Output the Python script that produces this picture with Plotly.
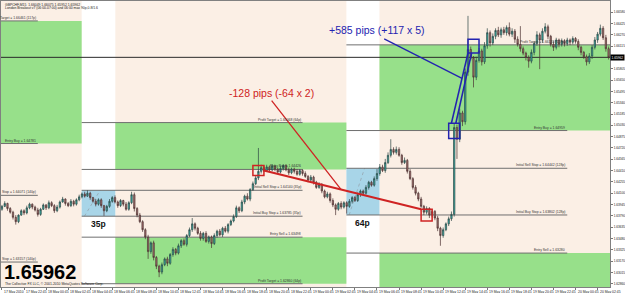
import plotly.graph_objects as go
import pandas as pd

# ---------------- data ----------------
PIP = 0.0001
bar_start = "2010-05-17 20:45"
first_open = 1.6388
closes = [
    1.6392, 1.6396, 1.6389, 1.6384, 1.6377, 1.6371, 1.6380, 1.6386, 1.6383, 1.6390,
    1.6395, 1.6391, 1.6387, 1.6381, 1.6388, 1.6394, 1.6390, 1.6397, 1.6393, 1.6386,
    1.6391, 1.6398, 1.6402, 1.6396, 1.6393, 1.6399, 1.6395, 1.6401, 1.6405,
    1.6409, 1.6406, 1.6410, 1.6404, 1.6399, 1.6395, 1.6401, 1.6393, 1.6386, 1.6392, 1.6399, 1.6404,
    1.6398, 1.6393, 1.6400, 1.6395, 1.6388, 1.6397, 1.6408, 1.6389,
    1.6380, 1.6371, 1.6360, 1.6350,
    1.6330, 1.6342, 1.6322, 1.6310, 1.6302, 1.6312, 1.6320, 1.6314, 1.6326, 1.6333,
    1.6328, 1.6338, 1.6345, 1.6340, 1.6352, 1.6360, 1.6368, 1.6362, 1.6355, 1.6348,
    1.6355, 1.6344, 1.6350, 1.6341, 1.6352, 1.6358,
    1.6353, 1.6362, 1.6358, 1.6367, 1.6372, 1.6378,
    1.6390, 1.6386, 1.6398, 1.6406, 1.6402, 1.6415, 1.6423,
    1.6431, 1.6440, 1.6445, 1.6441,
    1.6446, 1.6442, 1.6447, 1.6443, 1.6439, 1.6444, 1.6448, 1.6442, 1.6438, 1.6443, 1.6440, 1.6436, 1.6441, 1.6437, 1.6433,
    1.6428, 1.6432, 1.6425, 1.6418, 1.6422, 1.6413, 1.6405, 1.6409, 1.6400,
    1.6394, 1.6388, 1.6396, 1.6391, 1.6397,
    1.6392, 1.6399, 1.6404, 1.6400, 1.6408, 1.6413, 1.6410, 1.6418, 1.6425, 1.6421, 1.6430, 1.6437,
    1.6446, 1.6441, 1.6452, 1.6462, 1.6470, 1.6466,
    1.6470, 1.6462, 1.6452, 1.6455, 1.6440, 1.6430, 1.6418, 1.6410,
    1.6402, 1.6392, 1.6384, 1.6389, 1.6380, 1.6385,
    1.6376, 1.6362, 1.6352, 1.6360, 1.6368, 1.6375, 1.6381,
    1.6500, 1.6484, 1.6520, 1.6508, 1.6576, 1.6607, 1.6595, 1.6569, 1.6592, 1.6605, 1.6590, 1.6612, 1.6630, 1.6616,
    1.6625, 1.6633, 1.6627, 1.6634, 1.6630, 1.6637, 1.6628, 1.6632, 1.6621, 1.6614,
    1.6608, 1.6602, 1.6596, 1.6591, 1.6603, 1.6615, 1.6627, 1.6620, 1.6632, 1.6638,
    1.6625, 1.6614, 1.6610, 1.6620, 1.6614, 1.6619, 1.6615, 1.6620, 1.6617, 1.6622,
    1.6618, 1.6610, 1.6603, 1.6597, 1.6590, 1.6598, 1.6610, 1.6620, 1.6628, 1.6636,
    1.6623, 1.6608, 1.65962,
]
wick_up_pips = [
    2, 3, 1, 2, 2, 3, 1, 2, 2, 3, 2, 1, 2, 3, 2, 2, 1, 3, 2, 2, 3, 2, 3, 1, 2, 3, 2, 2, 3,
    2, 3, 4, 2, 1, 3, 2, 2, 1, 2, 3, 2,
    3, 2, 2, 1, 3, 2, 4, 3,
    2, 3, 2, 2,
    3, 2, 3, 2, 2, 3, 2, 3, 2, 3,
    2, 3, 2, 3, 2, 3, 8, 2, 2, 3,
    2, 3, 2, 2, 3, 2,
    3, 2, 3, 2, 2, 3,
    3, 2, 3, 2, 4, 2, 3,
    3, 32, 4, 3,
    3, 2, 3, 2, 2, 3, 2, 2, 3, 2, 2, 3, 2, 2, 3,
    2, 3, 2, 2, 3, 2, 2, 3, 2,
    3, 2, 2, 3, 2,
    2, 3, 2, 2, 3, 2, 2, 3, 2, 2, 3, 6,
    4, 3, 5, 4, 14, 3,
    4, 3, 2, 4, 2, 3, 2, 3,
    2, 3, 2, 3, 2, 3,
    2, 3, 2, 3, 2, 3, 4,
    5, 4, 6, 3, 5, 46, 4, 3, 5, 4, 3, 5, 6, 3,
    4, 3, 5, 3, 4, 3, 7, 4, 3, 4,
    25, 3, 2, 3, 4, 3, 5, 3, 4, 5,
    3, 2, 4, 3, 2, 3, 2, 3, 2, 3,
    2, 3, 2, 2, 3, 4, 3, 4, 3, 5,
    3, 4, 3,
]
wick_dn_pips = [
    2, 1, 3, 2, 3, 4, 2, 1, 3, 2, 2, 3, 2, 3, 2, 1, 3, 2, 2, 3, 2, 2, 1, 3, 2, 2, 3, 2, 2,
    2, 2, 1, 3, 2, 3, 2, 3, 7, 2, 2, 2,
    2, 3, 2, 3, 2, 2, 2, 4,
    3, 2, 3, 3,
    10, 3, 4, 4, 7, 3, 2, 4, 2, 3,
    3, 2, 3, 2, 3, 2, 3, 3, 2, 3,
    3, 2, 3, 6, 2, 3,
    2, 3, 2, 3, 2, 2,
    2, 3, 2, 3, 2, 3, 2,
    2, 3, 3, 2,
    2, 3, 2, 3, 2, 2, 3, 2, 3, 2, 3, 2, 2, 3, 2,
    3, 2, 3, 2, 2, 3, 2, 2, 3,
    3, 8, 2, 3, 2,
    10, 2, 3, 2, 2, 3, 2, 2, 3, 2, 2, 3,
    3, 2, 3, 2, 3, 3,
    3, 2, 3, 2, 3, 2, 3, 3,
    3, 2, 4, 3, 4, 3,
    3, 4, 14, 3, 2, 3, 3,
    3, 27, 4, 6, 4, 5, 3, 14, 4, 3, 5, 3, 4, 5,
    3, 4, 3, 4, 3, 4, 3, 4, 5, 3,
    4, 3, 4, 9, 3, 4, 3, 40, 4, 3,
    4, 3, 5, 3, 4, 3, 4, 3, 4, 3,
    3, 4, 4, 3, 5, 3, 4, 3, 4, 3,
    3, 4, 3,
]

y_tick_values = [1.66580, 1.66425, 1.66270, 1.66115, 1.65960, 1.65805, 1.65650, 1.65495,
                 1.65340, 1.65185, 1.65030, 1.64875, 1.64720, 1.64565, 1.64410, 1.64255,
                 1.64100, 1.63945, 1.63790, 1.63635, 1.63480, 1.63325, 1.63170, 1.63015, 1.62860]
y_range = [1.62815, 1.66734]
last_price = 1.65962

header_line1 = "GBPCHF,M15  1.66049 1.66075 1.65952 1.65962"
header_line2 = "London Breakout v7 (06:00-07:00) and 06:00 max 90p,0.8/1.6"
copyright_text = "The Collective FX LLC, \u00a9 2001-2010 MetaQuotes Software Corp."

day_starts = ["2010-05-18 00:00", "2010-05-19 00:00", "2010-05-20 00:00"]

# day 1 (carried over from previous session)
d1_zone = [1.64781, 1.66461]
d1_names = ["Target = 1.66461 (117p)", "Entry Buy = 1.64781", "Stop = 1.64071 (140p)", "Stop = 1.63157 (140p)"]
d1_prices = [1.66461, 1.64781, 1.64071, 1.63157]

# day 2
d2_range_times = ["2010-05-18 04:00", "2010-05-18 07:00"]
d2_range = [1.63785, 1.64140]
d2_range_label = "35p"
d2_names = ["Profit Target = 1.65068 (64p)", "Entry Buy = 1.64426", "Initial Sell Stop = 1.64140 (35p)",
            "Initial Buy Stop = 1.63785 (35p)", "Entry Sell = 1.63498", "Profit Target = 1.62860 (64p)"]
d2_prices = [1.65068, 1.64426, 1.64140, 1.63785, 1.63498, 1.62860]
d2_green_zones = [[1.64426, 1.65068], [1.62860, 1.63498]]

# day 3
d3_range_times = ["2010-05-19 04:00", "2010-05-19 07:00"]
d3_range = [1.63802, 1.64442]
d3_range_label = "64p"
d3_names = ["Profit Target = 1.66133 (117p)", "Entry Buy = 1.64959", "Initial Sell Stop = 1.64442 (128p)",
            "Initial Buy Stop = 1.63802 (128p)", "Entry Sell = 1.63280"]
d3_prices = [1.66133, 1.64959, 1.64442, 1.63802, 1.63280]
d3_green_zones = [[1.64959, 1.66133], [1.62700, 1.63280]]

# trades (time span of marker box, price span)
loss_boxes_time = [["2010-05-18 19:30", "2010-05-18 20:30"], ["2010-05-19 10:45", "2010-05-19 11:45"]]
loss_boxes_price = [[1.64344, 1.64481], [1.63720, 1.63880]]
loss_text = "-128 pips (-64 x 2)"
win_boxes_time = [["2010-05-19 13:15", "2010-05-19 14:15"], ["2010-05-19 15:00", "2010-05-19 16:00"]]
win_boxes_price = [[1.64850, 1.65060], [1.66020, 1.66210]]
win_text = "+585 pips (+117 x 5)"

# ---------------- build ----------------
n = len(closes)
assert len(wick_up_pips) == n and len(wick_dn_pips) == n, (n, len(wick_up_pips), len(wick_dn_pips))
t0 = pd.Timestamp(bar_start)
times = pd.date_range(t0, periods=n, freq="15min")
xi = list(range(n))
opens = [first_open] + closes[:-1]
highs = [max(o, c) + u * PIP for o, c, u in zip(opens, closes, wick_up_pips)]
lows = [min(o, c) - d * PIP for o, c, d in zip(opens, closes, wick_dn_pips)]


def bx(ts):
    return (pd.Timestamp(ts) - t0) / pd.Timedelta("15min")


X0, X1 = -0.35, 220.5
PEACH = "#FBEFE5"
GREEN = "#97E08A"
BLUE_BOX = "#A8D5E8"
LEVEL = "#6F6F6F"
RED = "#CF2323"
BLUE = "#2323B0"
FONT = "Liberation Sans, Arial, sans-serif"

shapes = []
annotations = []


def rect(x0, x1, y0, y1, color):
    shapes.append(dict(type="rect", xref="x", yref="y", x0=x0, x1=x1, y0=y0, y1=y1,
                       fillcolor=color, line=dict(width=0), layer="below"))


def hline(x0, x1, y, color=LEVEL, width=1):
    shapes.append(dict(type="line", xref="x", yref="y", x0=x0, x1=x1, y0=y, y1=y,
                       line=dict(color=color, width=width), layer="below"))


def lvl_label(x, y, text):
    annotations.append(dict(x=x, y=y, xref="x", yref="y", text=text, showarrow=False,
                            xanchor="right", yanchor="bottom", yshift=-1,
                            font=dict(size=3.4, color="#333333", family=FONT)))


sep = [bx(d) for d in day_starts]
d2s, d2e = bx(d2_range_times[0]) - 0.1, bx(d2_range_times[1]) + 0.1
d3s, d3e = bx(d3_range_times[0]) - 0.1, bx(d3_range_times[1]) - 0.1

# base peach background
rect(X0, X1, y_range[0], y_range[1], PEACH)
# range columns (white)
rect(d2s, d2e, y_range[0], y_range[1], "#FFFFFF")
rect(d3s, d3e, y_range[0], y_range[1], "#FFFFFF")
# green zones
rect(X0, d2s, d1_zone[0], d1_zone[1], GREEN)
for z in d2_green_zones:
    rect(d2e, d3s, z[0], z[1], GREEN)
for z in d3_green_zones:
    rect(d3e, X1, z[0], z[1], GREEN)
# range boxes
rect(d2s, d2e, d2_range[0], d2_range[1], BLUE_BOX)
rect(d3s, d3e, d3_range[0], d3_range[1], BLUE_BOX)
for (s, e, r) in [(d2s, d2e, d2_range), (d3s, d3e, d3_range)]:
    shapes.append(dict(type="line", xref="x", yref="y", x0=s + 1, y0=r[0], x1=s + 0.55 * (e - s), y1=r[1],
                       line=dict(color="#9AB0BC", width=1, dash="dot"), layer="below"))
# level lines
for p, name in zip(d1_prices, d1_names):
    hline(X0, sep[0], p)
    lvl_label(sep[0], p, name)
for p, name in zip(d2_prices, d2_names):
    hline(d2s, sep[1], p)
    lvl_label(sep[1], p, name)
for k, (p, name) in enumerate(zip(d3_prices, d3_names)):
    hline(d3s, X1 if k == 0 else sep[2], p)
    lvl_label(sep[2], p, name)
# day separators
for s in sep:
    shapes.append(dict(type="line", xref="x", yref="paper", x0=s, x1=s, y0=0, y1=1,
                       line=dict(color="#9C9C9C", width=1, dash="dot"), layer="below"))
# bid line
hline(X0, X1, last_price, color="#2A2A2A", width=1)

# range labels
for (s, e, r, lab) in [(d2s, d2e, d2_range, d2_range_label), (d3s, d3e, d3_range, d3_range_label)]:
    annotations.append(dict(x=(s + e) / 2, y=r[0], xref="x", yref="y", text="<b>%s</b>" % lab,
                            showarrow=False, yanchor="top", yshift=-1,
                            font=dict(size=8.5, color="#111111", family=FONT)))

# trade boxes and connecting lines
lb = [[bx(a), bx(b)] for a, b in loss_boxes_time]
wb = [[bx(a), bx(b)] for a, b in win_boxes_time]
for (tx, py) in zip(lb, loss_boxes_price):
    shapes.append(dict(type="rect", xref="x", yref="y", x0=tx[0], x1=tx[1], y0=py[0], y1=py[1],
                       line=dict(color=RED, width=1.5), fillcolor="rgba(0,0,0,0)", layer="above"))
for (tx, py) in zip(wb, win_boxes_price):
    shapes.append(dict(type="rect", xref="x", yref="y", x0=tx[0], x1=tx[1], y0=py[0], y1=py[1],
                       line=dict(color=BLUE, width=1.5), fillcolor="rgba(0,0,0,0)", layer="above"))

# red loss line
rx0, ry0 = lb[0][1], (loss_boxes_price[0][0] + loss_boxes_price[0][1]) / 2
rx1, ry1 = lb[1][0], loss_boxes_price[1][1]
shapes.append(dict(type="line", xref="x", yref="y", x0=rx0, y0=ry0, x1=rx1, y1=ry1,
                   line=dict(color=RED, width=2), layer="above"))
f = 0.49
px_, py_ = rx0 + f * (rx1 - rx0), ry0 + f * (ry1 - ry0)
shapes.append(dict(type="line", xref="x", yref="y", x0=97.8, y0=1.6537, x1=px_, y1=py_,
                   line=dict(color=RED, width=1.3), layer="above"))
annotations.append(dict(x=97.8, y=1.65478, xref="x", yref="y", text=loss_text, showarrow=False,
                        font=dict(size=10.5, color=RED, family=FONT)))

# blue win lines
ax0, ay0 = wb[0][0] + 1.0, win_boxes_price[0][1]
ax1, ay1 = wb[1][0], win_boxes_price[1][0]
shapes.append(dict(type="line", xref="x", yref="y", x0=ax0, y0=ay0, x1=ax1, y1=ay1,
                   line=dict(color=BLUE, width=1.6), layer="above"))
shapes.append(dict(type="line", xref="x", yref="y", x0=ax0 + 1.6, y0=ay0, x1=ax1 + 1.3, y1=ay1,
                   line=dict(color=BLUE, width=1.6), layer="above"))
g = 0.64
bxp, byp = ax0 + g * (ax1 - ax0), ay0 + g * (ay1 - ay0)
shapes.append(dict(type="line", xref="x", yref="y", x0=138.6, y0=1.66215, x1=bxp, y1=byp,
                   line=dict(color=BLUE, width=1.3), layer="above"))
annotations.append(dict(x=135.9, y=1.66338, xref="x", yref="y", text=win_text, showarrow=False,
                        font=dict(size=10.5, color=BLUE, family=FONT)))

# header, big price, copyright
annotations.append(dict(x=0.003, y=0.987, xref="paper", yref="paper", text=header_line1, showarrow=False,
                        xanchor="left", yanchor="middle", font=dict(size=3.4, color="#222222", family=FONT)))
annotations.append(dict(x=0.003, y=0.974, xref="paper", yref="paper", text=header_line2, showarrow=False,
                        xanchor="left", yanchor="middle", font=dict(size=3.4, color="#222222", family=FONT)))
annotations.append(dict(x=0.002, y=0.006, xref="paper", yref="paper", text="<b>%.5f</b>" % last_price,
                        showarrow=False, xanchor="left", yanchor="bottom",
                        font=dict(size=20, color="#000000", family=FONT)))
annotations.append(dict(x=0.003, y=0.009, xref="paper", yref="paper", text=copyright_text, showarrow=False,
                        xanchor="left", yanchor="middle", font=dict(size=3.4, color="#222222", family=FONT)))
# current price box on axis (covers the tick it sits on)
annotations.append(dict(x=1, y=last_price, xref="paper", yref="y", text="%.5f" % last_price, showarrow=False,
                        xanchor="left", yanchor="middle", bgcolor="#000000", borderpad=0.6,
                        font=dict(size=3.2, color="#FFFFFF", family=FONT)))
tick_text = ["" if abs(v - last_price) < 0.0003 else "%.5f" % v for v in y_tick_values]

# x-axis labels (every 2 hours)
for i in range(0, n, 8):
    t = times[i]
    lab = t.strftime("%d %b %Y") if i == 0 else t.strftime("%d %b %H:%M")
    annotations.append(dict(x=i, y=0, xref="x", yref="paper", text=lab, showarrow=False,
                            xanchor="left", yanchor="top", xshift=0, yshift=-1,
                            font=dict(size=3.4, color="#222222", family=FONT)))

fig = go.Figure(go.Candlestick(
    x=xi, open=opens, high=highs, low=lows, close=closes,
    increasing=dict(fillcolor="#35B5AC", line=dict(color="#2B4543", width=0.7)),
    decreasing=dict(fillcolor="#A87371", line=dict(color="#4A3131", width=0.7)),
    whiskerwidth=0, showlegend=False, hoverinfo="skip"))

fig.update_layout(
    width=625, height=293, autosize=False,
    margin=dict(l=0, r=13, t=0, b=6, pad=0),
    paper_bgcolor="#FFFFFF", plot_bgcolor="#FFFFFF",
    shapes=shapes, annotations=annotations,
    font=dict(family=FONT),
    xaxis=dict(range=[X0, X1], rangeslider=dict(visible=False), showgrid=False, zeroline=False,
               showticklabels=False, ticks="outside", ticklen=2, tickcolor="#777777",
               tickvals=list(range(0, n, 8)), showline=True, linecolor="#808080", mirror=True),
    yaxis=dict(range=y_range, side="right", showgrid=False, zeroline=False,
               tickvals=y_tick_values, ticktext=tick_text,
               ticks="outside", ticklen=2, tickcolor="#777777",
               tickfont=dict(size=3.2, color="#222222", family=FONT),
               showline=True, linecolor="#808080", mirror=True),
)

fig.write_html("out.html")
